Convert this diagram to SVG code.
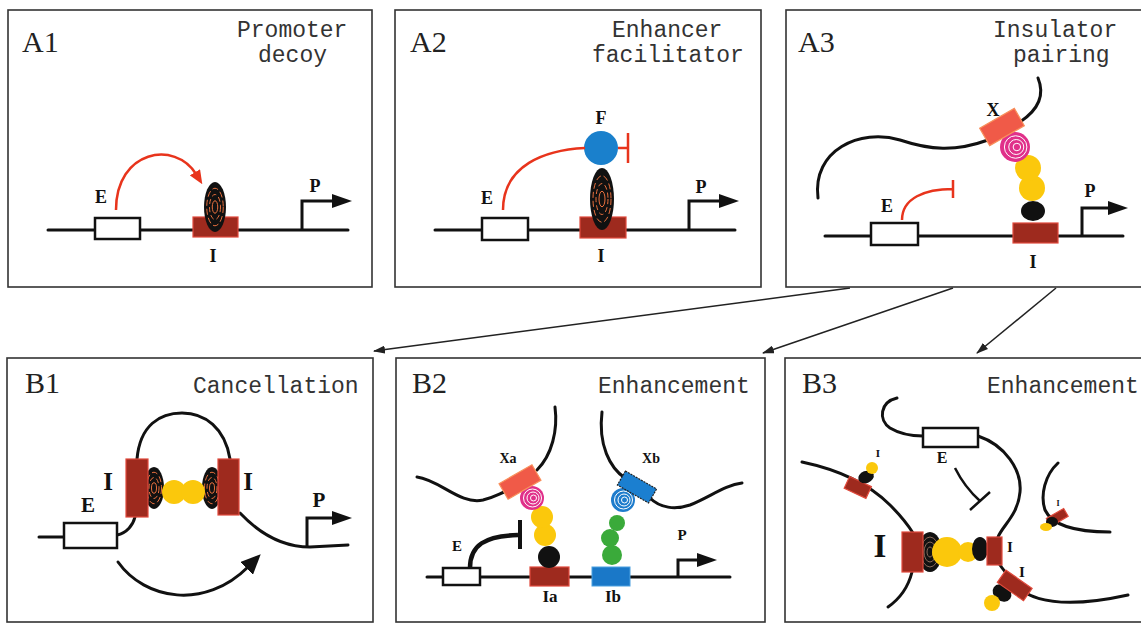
<svg xmlns="http://www.w3.org/2000/svg" width="1141" height="624" viewBox="0 0 1141 624">
<style>
.panel{fill:#fff;stroke:#333;stroke-width:1.6}
.tag{font-family:"Liberation Serif","Times New Roman",serif;font-size:30px;fill:#222}
.title{font-family:"Liberation Mono","Courier New",monospace;font-size:23px;fill:#333}
.lb{font-family:"Liberation Serif","Times New Roman",serif;font-weight:bold;fill:#111;text-anchor:middle}
.dna{fill:none;stroke:#111;stroke-width:3;stroke-linecap:round}
.enh{fill:#fff;stroke:#111;stroke-width:2.5}
.ins{fill:#9e2a1e;stroke:#e04a3c;stroke-width:1.2}
.red{fill:none;stroke:#e8341c;stroke-width:2.5}
.blk{fill:#111}
.yel{fill:#fbc80c}
.grn{fill:#3aaa3a}
.prom{fill:none;stroke:#111;stroke-width:3}
.link{fill:none;stroke:#222;stroke-width:1.5}
.ring{fill:none;stroke:#e8703e;stroke-width:1;vector-effect:non-scaling-stroke}
.gring{fill:none;stroke:#8a6a5a;stroke-width:1;vector-effect:non-scaling-stroke}
.wring{fill:none;stroke:#fff;stroke-width:1;vector-effect:non-scaling-stroke}
</style>
<defs>
  <marker id="pArrow" markerUnits="userSpaceOnUse" markerWidth="20" markerHeight="14" viewBox="0 0 20 14" refX="2" refY="7" orient="auto"><path d="M0,0 L20,7 L0,14 Z" fill="#111"/></marker>
  <marker id="redArrow" markerUnits="userSpaceOnUse" markerWidth="14" markerHeight="12" viewBox="0 0 14 12" refX="2" refY="6" orient="auto"><path d="M0,0 L14,6 L0,12 Z" fill="#e8341c"/></marker>
  <marker id="bigArrow" markerUnits="userSpaceOnUse" markerWidth="20" markerHeight="18" viewBox="0 0 20 18" refX="2" refY="9" orient="auto"><path d="M0,0 L20,9 L0,18 Z" fill="#111"/></marker>
  <marker id="linkArrow" markerUnits="userSpaceOnUse" markerWidth="12" markerHeight="8" viewBox="0 0 12 8" refX="11" refY="4" orient="auto"><path d="M0,0 L12,4 L0,8 Z" fill="#222"/></marker>
  <!-- unit disc with concentric rings, scaled per use -->
  <g id="disc">
    <ellipse rx="10" ry="10" fill="#111"/>
    <ellipse rx="7.5" ry="7.5" class="ring" stroke-dasharray="6 3"/>
    <ellipse rx="5" ry="5" class="ring" stroke-dasharray="5 3"/>
    <ellipse rx="2.5" ry="2.5" class="ring"/>
  </g>
  <g id="gdisc">
    <ellipse rx="10" ry="10" fill="#111"/>
    <ellipse rx="7.5" ry="7.5" class="gring"/>
    <ellipse rx="5" ry="5" class="gring"/>
    <ellipse rx="2.5" ry="2.5" class="gring"/>
  </g>
  <g id="spiralPink">
    <circle r="12" fill="#e0308a"/>
    <circle cx="0.5" cy="0" r="9" class="wring"/>
    <circle cx="1" cy="0" r="6" class="wring"/>
    <circle cx="1.5" cy="0" r="3" class="wring"/>
  </g>
  <g id="spiralBlue">
    <circle r="12" fill="#1e7ccc"/>
    <circle cx="0.5" cy="0" r="9" class="wring"/>
    <circle cx="1" cy="0" r="6" class="wring"/>
    <circle cx="1.5" cy="0" r="3" class="wring"/>
  </g>
</defs>

<!-- links from A3 down to the B panels -->
<g id="connectors">
  <path class="link" d="M850,288 L374,351" marker-end="url(#linkArrow)"/>
  <path class="link" d="M953,288 L763,353" marker-end="url(#linkArrow)"/>
  <path class="link" d="M1056,288 L977,353" marker-end="url(#linkArrow)"/>
</g>

<!-- A1: promoter decoy -->
<g id="A1">
  <rect class="panel" x="8" y="10" width="364" height="277"/>
  <text class="tag" x="22" y="52">A1</text>
  <text class="title" x="237" y="37">Promoter</text>
  <text class="title" x="258" y="62">decoy</text>
  <line class="dna" x1="48" y1="230" x2="348" y2="230"/>
  <rect class="enh" x="95" y="218" width="45" height="21"/>
  <text class="lb" x="101" y="203" font-size="18">E</text>
  <rect class="ins" x="193" y="217" width="45" height="20"/>
  <use href="#disc" transform="translate(215,207) scale(1.1,2.5)"/>
  <text class="lb" x="213" y="262" font-size="18">I</text>
  <path class="red" d="M116,210 C116,150 175,140 196,174" marker-end="url(#redArrow)"/>
  <path class="prom" d="M302,230 V201 H334" marker-end="url(#pArrow)"/>
  <text class="lb" x="315" y="192" font-size="18">P</text>
</g>

<!-- A2: enhancer facilitator -->
<g id="A2">
  <rect class="panel" x="395" y="10" width="366" height="277"/>
  <text class="tag" x="410" y="52">A2</text>
  <text class="title" x="612" y="37">Enhancer</text>
  <text class="title" x="592" y="62">facilitator</text>
  <line class="dna" x1="435" y1="230" x2="735" y2="230"/>
  <rect class="enh" x="482" y="218" width="46" height="22"/>
  <text class="lb" x="487" y="204" font-size="18">E</text>
  <rect class="ins" x="580" y="217" width="46" height="21"/>
  <use href="#disc" transform="translate(602,199) scale(1.2,3.1)"/>
  <circle cx="601" cy="148" r="17" fill="#1a80cc"/>
  <text class="lb" x="601" y="124" font-size="18">F</text>
  <path class="red" d="M503,210 C503,165 545,150 585,148"/>
  <path class="red" d="M618,148 H628 M628,133 V163"/>
  <path class="prom" d="M689,230 V201 H721" marker-end="url(#pArrow)"/>
  <text class="lb" x="701" y="193" font-size="18">P</text>
  <text class="lb" x="601" y="262" font-size="18">I</text>
</g>

<!-- A3: insulator pairing -->
<g id="A3">
  <rect class="panel" x="786" y="10" width="360" height="277"/>
  <text class="tag" x="798" y="52">A3</text>
  <text class="title" x="993" y="37">Insulator</text>
  <text class="title" x="1013" y="62">pairing</text>
  <line class="dna" x1="825" y1="236" x2="1123" y2="236"/>
  <path class="dna" d="M818,198 C812,150 860,128 900,140 C930,150 955,152 988,140"/>
  <path class="dna" d="M1020,122 C1038,110 1045,95 1038,78"/>
  <rect class="enh" x="871" y="223" width="47" height="22"/>
  <text class="lb" x="887" y="212" font-size="18">E</text>
  <path class="red" stroke-width="2" d="M902,220 C902,198 925,189 953,189 M953,180 V198"/>
  <rect class="ins" x="1013" y="223" width="45" height="20"/>
  <ellipse cx="1033" cy="211" rx="12" ry="10" fill="#111"/>
  <circle cx="1032" cy="188" r="13" class="yel"/>
  <circle cx="1028" cy="168" r="13" class="yel"/>
  <use href="#spiralPink" transform="translate(1015,147) scale(1.25)"/>
  <rect x="982" y="117" width="40" height="20" fill="#f05a48" stroke="#f8905c" stroke-width="1.2" transform="rotate(-30 1002 127)"/>
  <text class="lb" x="993" y="116" font-size="18">X</text>
  <path class="prom" d="M1082,236 V208 H1110" marker-end="url(#pArrow)"/>
  <text class="lb" x="1090" y="197" font-size="18">P</text>
  <text class="lb" x="1033" y="268" font-size="18">I</text>
</g>

<!-- B1: cancellation -->
<g id="B1">
  <rect class="panel" x="7" y="358" width="366" height="264"/>
  <text class="tag" x="25" y="393">B1</text>
  <text class="title" x="193" y="393">Cancellation</text>
  <path class="dna" d="M39,537 H64"/>
  <path class="dna" d="M117,535 C127,533 133,525 135,517"/>
  <path class="dna" d="M137,459 C140,425 160,413 182,413 C205,413 225,428 230,459"/>
  <path class="dna" d="M240,513 C258,532 280,547 310,547 L348,545"/>
  <rect class="enh" x="64" y="523" width="53" height="25"/>
  <text class="lb" x="88" y="512" font-size="21">E</text>
  <use href="#disc" transform="translate(154,488) scale(1.0,2.1)"/>
  <use href="#disc" transform="translate(212,488) scale(1.0,2.1)"/>
  <circle cx="174" cy="492" r="12" class="yel"/>
  <circle cx="193" cy="492" r="12" class="yel"/>
  <rect class="ins" x="126" y="459" width="22" height="58" fill="#8e2016"/>
  <rect class="ins" x="218" y="459" width="21" height="56" fill="#8e2016"/>
  <text class="lb" x="108" y="490" font-size="25">I</text>
  <text class="lb" x="248" y="490" font-size="25">I</text>
  <path class="prom" d="M307,547 V518 H334" marker-end="url(#pArrow)"/>
  <text class="lb" x="319" y="507" font-size="21">P</text>
  <path class="dna" d="M118,562 C145,600 205,610 248,567" marker-end="url(#bigArrow)"/>
</g>

<!-- B2: enhancement via two insulators -->
<g id="B2">
  <rect class="panel" x="396" y="358" width="369" height="264"/>
  <text class="tag" x="412" y="393">B2</text>
  <text class="title" x="598" y="393">Enhancement</text>
  <line class="dna" x1="427" y1="577" x2="730" y2="577"/>
  <path class="dna" d="M417,477 C440,480 460,505 483,500 C495,497 500,493 507,491"/>
  <path class="dna" d="M537,470 C552,455 558,430 555,407"/>
  <path class="dna" d="M602,412 C598,445 610,468 625,478"/>
  <path class="dna" d="M650,498 C660,508 675,510 690,505 C710,497 725,485 742,483"/>
  <rect class="enh" x="443" y="568" width="37" height="17"/>
  <text class="lb" x="457" y="551" font-size="15">E</text>
  <path fill="none" stroke="#111" stroke-width="4.5" d="M470,568 C470,545 485,536 518,535"/>
  <path fill="none" stroke="#111" stroke-width="4" d="M520,520 V549"/>
  <rect class="ins" x="530" y="567" width="39" height="19"/>
  <circle cx="549" cy="557" r="11" fill="#111"/>
  <circle cx="545" cy="535" r="11" class="yel"/>
  <circle cx="542" cy="517" r="11" class="yel"/>
  <use href="#spiralPink" transform="translate(532,498)"/>
  <rect x="501" y="473" width="38" height="18" fill="#f05a48" stroke="#f8905c" stroke-width="1.2" transform="rotate(-30 520 482)"/>
  <text class="lb" x="508" y="463" font-size="14">Xa</text>
  <rect x="592" y="567" width="38" height="19" fill="#1a78c8" stroke="#4aa0e0" stroke-width="1"/>
  <circle cx="612" cy="555" r="10" class="grn"/>
  <circle cx="610" cy="538" r="9" class="grn"/>
  <circle cx="617" cy="523" r="8" class="grn"/>
  <use href="#spiralBlue" transform="translate(623,500)"/>
  <rect x="619" y="479" width="36" height="16" fill="#1b7fd0" stroke="#222" stroke-width="1.2" stroke-dasharray="2 1" transform="rotate(30 637 487)"/>
  <text class="lb" x="651" y="463" font-size="14">Xb</text>
  <path class="prom" stroke-width="2.5" d="M678,577 V560 H699" marker-end="url(#pArrow)"/>
  <text class="lb" x="682" y="540" font-size="15">P</text>
  <text class="lb" x="550" y="602" font-size="17">Ia</text>
  <text class="lb" x="613" y="602" font-size="17">Ib</text>
</g>

<!-- B3: enhancement by insulator clustering -->
<g id="B3">
  <rect class="panel" x="785" y="358" width="360" height="264"/>
  <text class="tag" x="802" y="393">B3</text>
  <text class="title" x="987" y="393">Enhancement</text>
  <path class="dna" d="M897,398 C880,402 878,420 890,428 C900,434 912,436 923,436"/>
  <path class="dna" d="M978,436 C1005,445 1022,470 1020,492 C1018,515 1003,525 998,537"/>
  <path class="dna" d="M802,462 C840,470 870,485 890,505 C900,515 908,525 913,533"/>
  <path class="dna" d="M912,572 C908,588 898,600 888,607"/>
  <path class="dna" d="M1058,463 C1045,475 1040,495 1045,510 C1052,525 1075,532 1110,532"/>
  <path class="dna" d="M1000,565 C1005,572 1010,578 1015,585 C1030,600 1060,610 1128,595"/>
  <rect class="enh" x="923" y="428" width="55" height="19"/>
  <text class="lb" x="942" y="463" font-size="16">E</text>
  <path fill="none" stroke="#111" stroke-width="2.5" d="M955,468 C962,482 970,492 980,501 M970,510 L990,492"/>
  <!-- central cluster -->
  <use href="#gdisc" transform="translate(930,552) scale(1.2,2.0)"/>
  <circle cx="947" cy="552" r="15" class="yel"/>
  <circle cx="968" cy="552" r="10" class="yel"/>
  <ellipse cx="980" cy="549" rx="8" ry="12" fill="#111"/>
  <rect class="ins" x="902" y="532" width="21" height="40" fill="#8e2016"/>
  <rect class="ins" x="987" y="537" width="15" height="28" fill="#8e2016"/>
  <text class="lb" x="880" y="557" font-size="33">I</text>
  <text class="lb" x="1010" y="552" font-size="15">I</text>
  <!-- upper-left insulator -->
  <rect class="ins" x="846" y="481" width="24" height="13" transform="rotate(25 858 487)"/>
  <ellipse cx="866" cy="477" rx="8" ry="6" fill="#111" transform="rotate(-20 866 477)"/>
  <circle cx="872" cy="468" r="6" class="yel"/>
  <text class="lb" x="878" y="457" font-size="11" font-weight="normal">I</text>
  <!-- right insulator -->
  <rect class="ins" x="1047" y="513" width="20" height="9" transform="rotate(-30 1057 517)"/>
  <ellipse cx="1052" cy="522" rx="6" ry="5" fill="#111"/>
  <ellipse cx="1046" cy="527" rx="6" ry="4" class="yel"/>
  <text class="lb" x="1058" y="506" font-size="8">I</text>
  <!-- lower-right insulator -->
  <ellipse cx="1002" cy="593" rx="10" ry="8" fill="#111" transform="rotate(35 1002 593)"/>
  <circle cx="992" cy="603" r="8" class="yel"/>
  <rect class="ins" x="999" y="578" width="32" height="15" transform="rotate(35 1015 585)"/>
  <text class="lb" x="1022" y="577" font-size="15">I</text>
</g>
</svg>
